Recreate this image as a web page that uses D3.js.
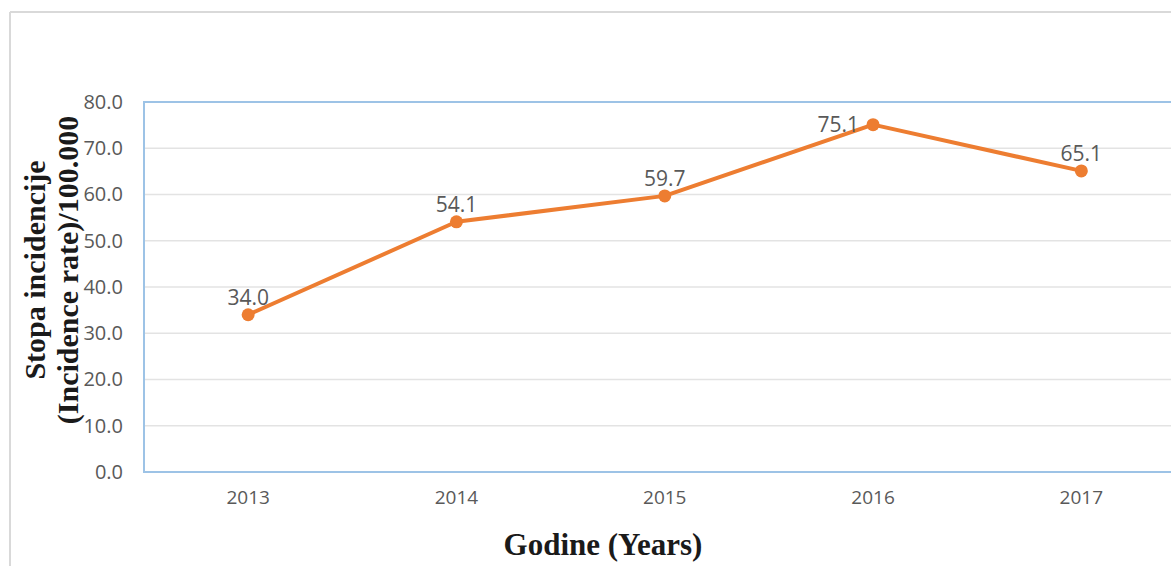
<!DOCTYPE html>
<html>
<head>
<meta charset="utf-8">
<script src="https://cdn.jsdelivr.net/npm/d3@7"></script>
<style>
  html, body { margin: 0; padding: 0; background: #fff; }
  svg { display: block; }
</style>
</head>
<body>
<svg id="chart" width="1171" height="566"></svg>
<script>
// Incidence rate per 100.000 by year
const years = ["2013", "2014", "2015", "2016", "2017"];
const rates = [34.0, 54.1, 59.7, 75.1, 65.1];
const yTicks = [0, 10, 20, 30, 40, 50, 60, 70, 80];
const labelSide = ["above", "above", "above", "left", "above"];

const W = 1171, H = 566;
const margin = { top: 102, left: 144, bottom: 94 };
const plotW = 1041.5;
const plotH = H - margin.top - margin.bottom;

const svg = d3.select("#chart");

// outer chart frame (only top and left edges visible)
svg.append("line").attr("x1", 10).attr("y1", 12).attr("x2", W).attr("y2", 12)
  .attr("stroke", "#d9d9d9").attr("stroke-width", 2);
svg.append("line").attr("x1", 10).attr("y1", 12).attr("x2", 10).attr("y2", H)
  .attr("stroke", "#d9d9d9").attr("stroke-width", 2);

const g = svg.append("g").attr("transform", `translate(${margin.left},${margin.top})`);

const x = d3.scaleBand().domain(years).range([0, plotW]);
const y = d3.scaleLinear().domain([0, 80]).range([plotH, 0]);

// horizontal gridlines
g.append("g").selectAll("line").data(yTicks.slice(1, -1)).join("line")
  .attr("x1", 0).attr("x2", plotW)
  .attr("y1", d => y(d)).attr("y2", d => y(d))
  .attr("stroke", "#e3e3e3").attr("stroke-width", 1.5);

// y axis tick labels
const yAxis = d3.axisLeft(y).tickValues(yTicks).tickFormat(d3.format(".1f")).tickSize(0).tickPadding(21);
const ya = g.append("g").call(yAxis);
ya.select(".domain").remove();
ya.selectAll("text").attr("font-family", "'Open Sans', sans-serif").attr("font-size", 20)
  .attr("fill", "#595959");

// x axis tick labels
const xAxis = d3.axisBottom(x).tickSize(0).tickPadding(19);
const xa = g.append("g").attr("transform", `translate(0,${plotH})`).call(xAxis);
xa.select(".domain").remove();
xa.selectAll("text").attr("font-family", "'Open Sans', sans-serif").attr("font-size", 19)
  .attr("fill", "#595959");

// plot area frame
g.append("rect").attr("x", 0).attr("y", 0).attr("width", plotW).attr("height", plotH)
  .attr("fill", "none").attr("stroke", "#9dc3e6").attr("stroke-width", 2);

const cx = (d, i) => x(years[i]) + x.bandwidth() / 2;

// series line
const line = d3.line().x((d, i) => cx(d, i)).y(d => y(d));
g.append("path").datum(rates).attr("d", line)
  .attr("fill", "none").attr("stroke", "#ed7d31").attr("stroke-width", 4)
  .attr("stroke-linejoin", "round");

// markers
g.append("g").selectAll("circle").data(rates).join("circle")
  .attr("cx", cx).attr("cy", d => y(d)).attr("r", 6.5)
  .attr("fill", "#ed7d31");

// data labels
g.append("g").selectAll("text").data(rates).join("text")
  .attr("x", (d, i) => labelSide[i] === "left" ? cx(d, i) - 14 : cx(d, i))
  .attr("y", (d, i) => labelSide[i] === "left" ? y(d) + 7 : y(d) - 10)
  .attr("text-anchor", (d, i) => labelSide[i] === "left" ? "end" : "middle")
  .attr("font-family", "'Open Sans', sans-serif").attr("font-size", 21)
  .attr("fill", "#595959")
  .text(d => d3.format(".1f")(d));

// axis titles
const yTitle = svg.append("text")
  .attr("transform", `translate(0,270) rotate(-90)`)
  .attr("text-anchor", "middle")
  .attr("font-family", "'Liberation Serif', 'Times New Roman', serif")
  .attr("font-weight", "bold").attr("font-size", 30).attr("fill", "#1a1a1a");
yTitle.append("tspan").attr("x", 0).attr("y", 45).text("Stopa incidencije");
yTitle.append("tspan").attr("x", 0).attr("y", 78).text("(Incidence rate)/100.000");

svg.append("text").attr("x", 603).attr("y", 555).attr("text-anchor", "middle")
  .attr("font-family", "'Liberation Serif', 'Times New Roman', serif")
  .attr("font-weight", "bold").attr("font-size", 31).attr("fill", "#1a1a1a")
  .text("Godine (Years)");
</script>
</body>
</html>
